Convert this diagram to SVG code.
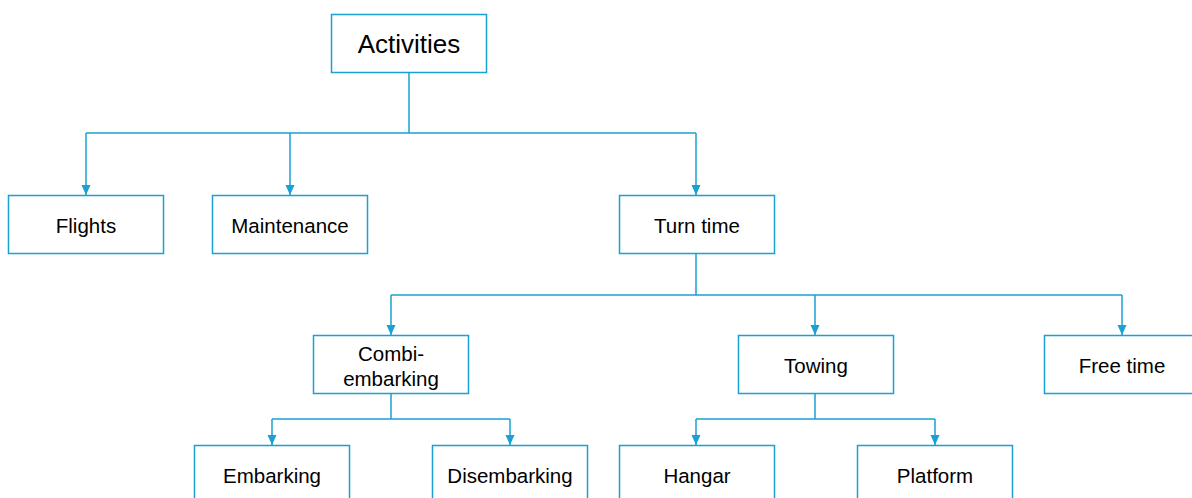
<svg xmlns="http://www.w3.org/2000/svg" width="1192" height="498" viewBox="0 0 1192 498">
<style>
.box{fill:#fff;stroke:#1aa0d2;stroke-width:1.5}
.t{font-family:"Liberation Sans",Arial,sans-serif;font-size:20.5px;fill:#000;text-anchor:middle;dominant-baseline:central}
.c{fill:none;stroke:#1aa0d2;stroke-width:1.5}
</style>
<defs>
<marker id="ah" viewBox="0 0 10 10" refX="10" refY="5" markerWidth="10" markerHeight="10" markerUnits="userSpaceOnUse" orient="auto">
<path d="M0,0.5 L10,5 L0,9.5 z" fill="#1aa0d2"/>
</marker>
</defs>
<rect width="1192" height="498" fill="#fff"/>
<g id="connectors">
<path class="c" d="M409,73 V133"/>
<path class="c" d="M86,133 H696"/>
<path class="c" d="M86,133 V195" marker-end="url(#ah)"/>
<path class="c" d="M290,133 V195" marker-end="url(#ah)"/>
<path class="c" d="M696,133 V195" marker-end="url(#ah)"/>
<path class="c" d="M696,254 V295"/>
<path class="c" d="M391,295 H1122"/>
<path class="c" d="M391,295 V335" marker-end="url(#ah)"/>
<path class="c" d="M815,295 V335" marker-end="url(#ah)"/>
<path class="c" d="M1122,295 V335" marker-end="url(#ah)"/>
<path class="c" d="M391,394 V419"/>
<path class="c" d="M272,419 H510"/>
<path class="c" d="M272,419 V445" marker-end="url(#ah)"/>
<path class="c" d="M510,419 V445" marker-end="url(#ah)"/>
<path class="c" d="M815,394 V419"/>
<path class="c" d="M696,419 H935"/>
<path class="c" d="M696,419 V445" marker-end="url(#ah)"/>
<path class="c" d="M935,419 V445" marker-end="url(#ah)"/>
</g>
<g id="activities"><rect class="box" x="331.5" y="14.5" width="155" height="58"/><text class="t" x="409" y="44" style="font-size:26px">Activities</text></g>
<g id="flights"><rect class="box" x="8.5" y="195.5" width="155" height="58"/><text class="t" x="86" y="225">Flights</text></g>
<g id="maintenance"><rect class="box" x="212.5" y="195.5" width="155" height="58"/><text class="t" x="290" y="225">Maintenance</text></g>
<g id="turntime"><rect class="box" x="619.5" y="195.5" width="155" height="58"/><text class="t" x="697" y="225">Turn time</text></g>
<g id="combi"><rect class="box" x="313.5" y="335.5" width="155" height="58"/><text class="t" x="391" y="353">Combi-</text><text class="t" x="391" y="378">embarking</text></g>
<g id="towing"><rect class="box" x="738.5" y="335.5" width="155" height="58"/><text class="t" x="816" y="365">Towing</text></g>
<g id="freetime"><rect class="box" x="1044.5" y="335.5" width="155" height="58"/><text class="t" x="1122" y="365">Free time</text></g>
<g id="embarking"><rect class="box" x="194.5" y="445.5" width="155" height="58"/><text class="t" x="272" y="475">Embarking</text></g>
<g id="disembarking"><rect class="box" x="432.5" y="445.5" width="155" height="58"/><text class="t" x="510" y="475">Disembarking</text></g>
<g id="hangar"><rect class="box" x="619.5" y="445.5" width="155" height="58"/><text class="t" x="697" y="475">Hangar</text></g>
<g id="platform"><rect class="box" x="857.5" y="445.5" width="155" height="58"/><text class="t" x="935" y="475">Platform</text></g>
</svg>
